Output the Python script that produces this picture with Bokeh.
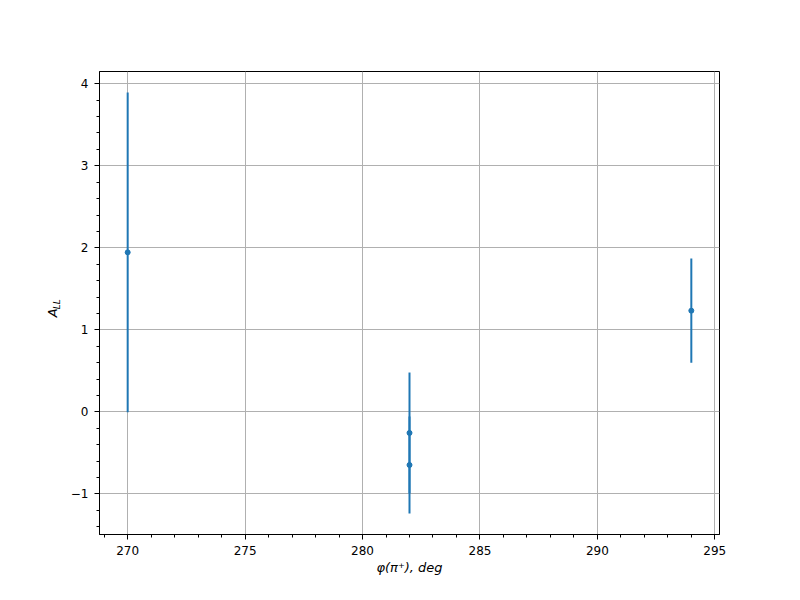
import math
from bokeh.plotting import figure
from bokeh.layouts import row
from bokeh.models import Range1d, SingleIntervalTicker, CustomJSTickFormatter, ColumnDataSource
from bokeh.core.properties import value
from bokeh.embed import file_html
from bokeh.resources import INLINE

# data
phi = [270, 282, 282, 294]
a_ll = [1.945, -0.256, -0.647, 1.234]
a_err = [1.948, 0.736, 0.591, 0.635]

lo = [v - e for v, e in zip(a_ll, a_err)]
hi = [v + e for v, e in zip(a_ll, a_err)]

xmin, xmax = min(phi), max(phi)
ymin, ymax = min(lo), max(hi)
xpad = 0.05 * (xmax - xmin)
ypad = 0.05 * (ymax - ymin)
x0, x1 = xmin - xpad, xmax + xpad
y0, y1 = ymin - ypad, ymax + ypad

H = 591
LW = 62          # width of the strip that carries the y-axis label
FW, FH = 620, 463

p = figure(width=791 - LW, height=H, output_backend="svg", toolbar_location=None,
           x_range=Range1d(x0, x1), y_range=Range1d(y0, y1),
           min_border_left=99 - LW, min_border_right=72, min_border_top=71, min_border_bottom=57,
           frame_width=FW, frame_height=FH)

p.background_fill_color = "white"
p.border_fill_color = "white"
p.outline_line_color = "black"
p.outline_line_width = 1

blue = "#1f77b4"
src = ColumnDataSource(dict(x=phi, y=a_ll, lo=lo, hi=hi))
p.segment(x0="x", y0="lo", x1="x", y1="hi", source=src, line_color=blue, line_width=2)
p.scatter(x="x", y="y", source=src, size=5, color=blue)

p.xaxis.ticker = SingleIntervalTicker(interval=5, num_minor_ticks=5)
p.yaxis.ticker = SingleIntervalTicker(interval=1, num_minor_ticks=5)
p.yaxis.formatter = CustomJSTickFormatter(
    code="return tick < 0 ? '\u2212' + Math.abs(tick) : tick.toString();")

for ax in (p.xaxis[0], p.yaxis[0]):
    ax.axis_line_color = "black"
    ax.axis_line_width = 1
    ax.major_tick_in = 0
    ax.major_tick_out = 5
    ax.minor_tick_in = 0
    ax.minor_tick_out = 3
    ax.major_tick_line_color = "black"
    ax.minor_tick_line_color = "black"
    ax.major_label_text_font = "DejaVu Sans"
    ax.major_label_text_font_size = "12px"
    ax.major_label_text_color = "black"
    ax.major_label_standoff = 6

p.xaxis.axis_label = "φ(π⁺), deg"
p.xaxis.axis_label_text_font = "DejaVu Sans"
p.xaxis.axis_label_text_font_style = "italic"
p.xaxis.axis_label_text_font_size = "13px"
p.xaxis.axis_label_text_color = "black"
p.xaxis.axis_label_standoff = 2

p.xgrid.grid_line_color = "#b0b0b0"
p.ygrid.grid_line_color = "#b0b0b0"
p.xgrid.grid_line_width = 1
p.ygrid.grid_line_width = 1

# strip on the left holding the y-axis label "A" with subscript "LL"
lab = figure(width=LW, height=H, output_backend="svg", toolbar_location=None,
             x_range=Range1d(0, LW), y_range=Range1d(H, 0),
             x_axis_type=None, y_axis_type=None,
             min_border_left=0, min_border_right=0, min_border_top=0, min_border_bottom=0)
lab.outline_line_color = None
lab.grid.visible = False
lab.background_fill_color = "white"
lab.border_fill_color = "white"
lab.text(x=[52], y=[308], text=["A"], angle=math.pi / 2,
         text_font=value("DejaVu Sans"), text_font_style="italic",
         text_font_size="13px", text_align="center", text_baseline="middle",
         text_color="black")
lab.text(x=[56], y=[297], text=["LL"], angle=math.pi / 2,
         text_font=value("DejaVu Sans"), text_font_style="italic",
         text_font_size="9px", text_align="center", text_baseline="middle",
         text_color="black")

layout = row(lab, p, spacing=0)
open("out.html", "w").write(file_html(layout, INLINE))
